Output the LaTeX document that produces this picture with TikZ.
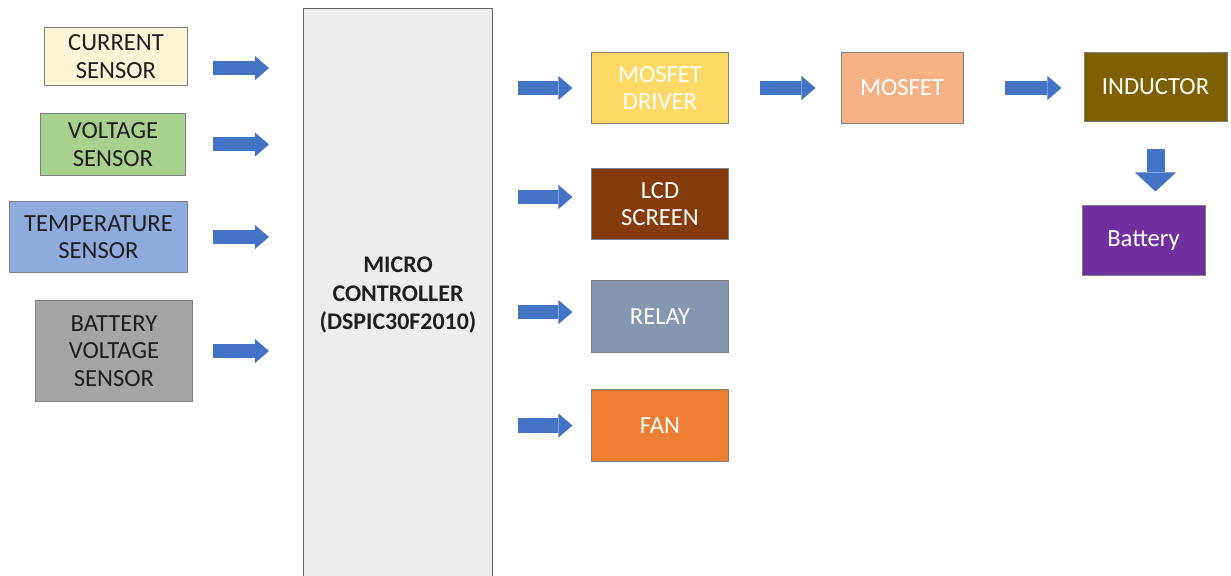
\documentclass[tikz,border=0pt]{standalone}
\usepackage{fontspec}
\setmainfont{Carlito}
\usetikzlibrary{arrows.meta}
\definecolor{blkInk}{HTML}{1E1E1E}
\definecolor{blkEdge}{HTML}{7F7F7F}
\definecolor{blkArrow}{HTML}{4472C4}
\definecolor{blkCurrent}{HTML}{FFF5D6}
\definecolor{blkVolt}{HTML}{A9D18E}
\definecolor{blkTemp}{HTML}{8FAADC}
\definecolor{blkBatSense}{HTML}{A5A5A5}
\definecolor{blkMcu}{HTML}{EDEDED}
\definecolor{blkDriver}{HTML}{FFD966}
\definecolor{blkLcd}{HTML}{843C0C}
\definecolor{blkRelay}{HTML}{8497B0}
\definecolor{blkFan}{HTML}{ED7D31}
\definecolor{blkMosfet}{HTML}{F4B183}
\definecolor{blkInductor}{HTML}{7F6000}
\definecolor{blkBattery}{HTML}{7030A0}
\tikzset{
  every picture/.style={font=\fontsize{17.5}{19.5}\selectfont, text=blkInk},
  blk box/.style={draw=blkEdge, line width=0.7pt, align=center, inner sep=0pt},
  blk dark/.style={blk box, text=white},
  blk flow/.style={draw=blkArrow, line width=0.35cm, line cap=butt,
    -{Triangle[length=0.35cm,width=0.6cm,line width=0pt]}},
  blk drop/.style={draw=blkArrow, line width=0.45cm, line cap=butt,
    -{Triangle[length=0.475cm,width=1.025cm,line width=0pt]}}
}
\begin{document}
\begin{tikzpicture}[x=0.025cm,y=-0.025cm]
  \useasboundingbox (0,0) rectangle (1231,576);
  % sensors
  \node[blk box, fill=blkCurrent, minimum width=3.55cm, minimum height=1.425cm] (cur) at (116,56.5) {CURRENT\\SENSOR};
  \node[blk box, fill=blkVolt, minimum width=3.6cm, minimum height=1.525cm] (volt) at (113,144.5) {VOLTAGE\\SENSOR};
  \node[blk box, fill=blkTemp, minimum width=4.425cm, minimum height=1.75cm] (temp) at (98.5,237) {TEMPERATURE\\SENSOR};
  \node[blk box, fill=blkBatSense, minimum width=3.9cm, minimum height=2.5cm] (bvs) at (114,351) {BATTERY\\VOLTAGE\\SENSOR};
  % controller
  \node[blk box, draw=blkEdge!80!black, fill=blkMcu, minimum width=4.7cm, minimum height=14.3cm,
    font=\fontsize{17}{20}\selectfont\bfseries] (mcu) at (398,295) {MICRO\\CONTROLLER\\(DSPIC30F2010)};
  % outputs
  \node[blk dark, fill=blkDriver, minimum width=3.4cm, minimum height=1.75cm] (drv) at (660,88) {MOSFET\\DRIVER};
  \node[blk dark, fill=blkLcd, minimum width=3.4cm, minimum height=1.75cm] (lcd) at (660,204) {LCD\\SCREEN};
  \node[blk dark, fill=blkRelay, minimum width=3.4cm, minimum height=1.775cm] (relay) at (660,316.5) {RELAY};
  \node[blk dark, fill=blkFan, minimum width=3.4cm, minimum height=1.775cm] (fan) at (660,425.5) {FAN};
  \node[blk dark, fill=blkMosfet, minimum width=3.05cm, minimum height=1.75cm] (mos) at (902,88) {MOSFET};
  \node[blk dark, fill=blkInductor, minimum width=3.575cm, minimum height=1.7cm] (ind) at (1155.5,87) {INDUCTOR};
  \node[blk dark, fill=blkBattery, minimum width=3.075cm, minimum height=1.725cm] (bat) at (1143.5,240.5) {Battery};
  % arrows
  \coordinate (inL) at (213,0);
  \coordinate (inR) at (269,0);
  \coordinate (curIn) at ([yshift=-0.29cm]cur.east);
  \draw[blk flow] (inL |- curIn) -- (inR |- curIn);
  \foreach \n in {volt,temp,bvs}
    \draw[blk flow] (inL |- \n.east) -- (inR |- \n.east);
  \foreach \n/\dy in {drv/0,lcd/0.175,relay/0.11,fan/0} {
    \coordinate (\n-in) at ([yshift=\dy cm]\n.west);
    \draw[blk flow, shorten <=0.625cm, shorten >=0.475cm] (mcu.east |- \n-in) -- (\n-in);
  }
  \draw[blk flow, shorten <=0.775cm, shorten >=0.625cm] (drv.east) -- (mos.west);
  \draw[blk flow, shorten <=1.025cm, shorten >=0.55cm] (mos.east) -- (ind.west |- mos.east);
  \draw[blk drop, shorten <=0.675cm, shorten >=0.35cm] (ind.south) -- (ind.south |- bat.north);
\end{tikzpicture}
\end{document}
